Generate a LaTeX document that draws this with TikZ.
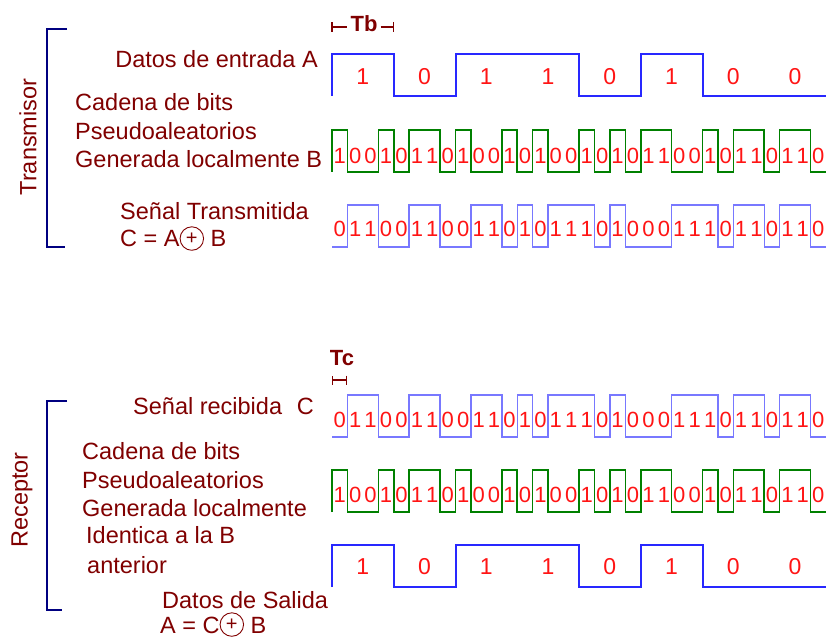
\documentclass[tikz,border=0pt]{standalone}
\usepackage{fontspec}
\setmainfont{Liberation Sans}
\usetikzlibrary{arrows.meta}
\definecolor{labelred}{RGB}{128,0,0}
\definecolor{bracketblue}{RGB}{0,0,128}
\definecolor{datablue}{RGB}{40,40,255}
\definecolor{sigblue}{RGB}{120,120,255}
\definecolor{pngreen}{RGB}{0,128,0}
\definecolor{digitred}{RGB}{255,20,20}
\newcommand{\Tb}{61.75}
\newcommand{\Tc}{15.4375}
\newcommand{\xo}{332}
\newcommand{\dataA}{1,0,1,1,0,1,0,0}
\newcommand{\pnB}{1,0,0,1,0,1,1,0,1,0,0,1,0,1,0,0,1,0,1,0,1,1,0,0,1,0,1,1,0,1,1,0}
\newcommand{\sigC}{0,1,1,0,0,1,1,0,0,1,1,0,1,0,1,1,1,0,1,0,0,0,1,1,1,0,1,1,0,1,1,0}
\newcommand{\chipwave}[4]{\draw[#1] (\xo,#2) foreach \bit [count=\i from 0] in #4
  {-- ({\xo+\i*#3},{#2-42*\bit}) -- ({\xo+(\i+1)*#3},{#2-42*\bit})};}
\newcommand{\chipdigits}[5][digit]{\foreach \bit [count=\i from 0] in #5
  \node[#1] (#2-\i) at ({\xo+(\i+0.5)*#4},#3) {\bit};}
\newcommand{\xorop}{\tikz[baseline=-0.36em]{\draw[labelred,line width=0.9pt] (0,0) circle (0.5em);
  \node[anchor=center,inner sep=0pt,text=labelred,font=\fontsize{20}{20}\selectfont] at (0,0.5) {+};}}

\begin{document}
\begin{tikzpicture}[x=1pt,y=-1pt,
  txt/.style={font=\fontsize{23.5}{23.5}\selectfont,text=labelred,inner sep=0pt},
  side/.style={txt,rotate=90},
  digit/.style={font=\fontsize{22}{22}\selectfont,text=digitred,inner sep=0pt},
  bigdigit/.style={digit,font=\fontsize{23}{23}\selectfont},
  timing/.style={font=\bfseries\fontsize{22}{22}\selectfont,text=labelred,inner sep=3pt},
  dim/.style={labelred,line width=1.5pt},
  bracket/.style={bracketblue,line width=1.5pt},
  datawave/.style={datablue,line width=2pt},
  pnwave/.style={pngreen,line width=1.6pt},
  sigwave/.style={sigblue,line width=1.4pt}]
\useasboundingbox (0,0) rectangle (827,639);

\node[side] (tx) at (28,137) {Transmisor};
\draw[bracket] (67,29) -- (47,29) -- (47,247) -- (65,247);
\node[timing] (tb) at (364,24) {Tb};
\coordinate (tbl) at (331,27);
\coordinate (tbr) at (394,27);
\draw[dim,{Bar[width=10pt]}-] (tbl) -- (tbl -| tb.west);
\draw[dim,-{Bar[width=10pt]}] (tbr -| tb.east) -- (tbr);
\node[txt,anchor=base east] (ina) at (318,68) {Datos de entrada A};
\node[txt,anchor=base west] (cad1) at (75,111) {Cadena de bits};
\node[txt,anchor=base west] (pse1) at (75,140) {Pseudoaleatorios};
\node[txt,anchor=base west] (gen1) at (75,168) {Generada localmente B};
\node[txt,anchor=base west] (tra) at (120,219) {Señal Transmitida};
\node[txt,anchor=base west] (eqc) at (120,247) {C = A\xorop{} B};
\chipwave{datawave}{96}{\Tb}{\dataA}
\chipdigits[bigdigit]{ta}{77}{\Tb}{\dataA}
\chipwave{pnwave}{172}{\Tc}{\pnB}
\chipdigits{tb}{156}{\Tc}{\pnB}
\chipwave{sigwave}{247}{\Tc}{\sigC}
\chipdigits{tc}{229}{\Tc}{\sigC}

\node[side] (rx) at (22,500) {Receptor};
\draw[bracket] (67,401) -- (47,401) -- (47,610) -- (62,610);
\node[timing] (tc) at (342,358) {Tc};
\coordinate (tcl) at (332,380);
\coordinate (tcr) at (347,380);
\draw[dim,line width=1.2pt,{Bar[width=9pt]}-{Bar[width=9pt]}] (tcl) -- (tcr);
\node[txt,anchor=base west] (rec) at (133,414) {Señal recibida\hspace{0.35em} C};
\node[txt,anchor=base west] (cad2) at (82,459) {Cadena de bits};
\node[txt,anchor=base west] (pse2) at (82,488) {Pseudoaleatorios};
\node[txt,anchor=base west] (gen2) at (82,516) {Generada localmente};
\node[txt,anchor=base west] (ide) at (86,543) {Identica a la B};
\node[txt,anchor=base west] (ant) at (87,573) {anterior};
\node[txt,anchor=base west] (sal) at (162,608) {Datos de Salida};
\node[txt,anchor=base west] (eqa) at (160,633) {A = C\xorop{} B};
\chipwave{sigwave}{437}{\Tc}{\sigC}
\chipdigits{rc}{420}{\Tc}{\sigC}
\chipwave{pnwave}{512}{\Tc}{\pnB}
\chipdigits{rb}{495}{\Tc}{\pnB}
\chipwave{datawave}{587}{\Tb}{\dataA}
\chipdigits[bigdigit]{ra}{567}{\Tb}{\dataA}
\end{tikzpicture}
\end{document}
